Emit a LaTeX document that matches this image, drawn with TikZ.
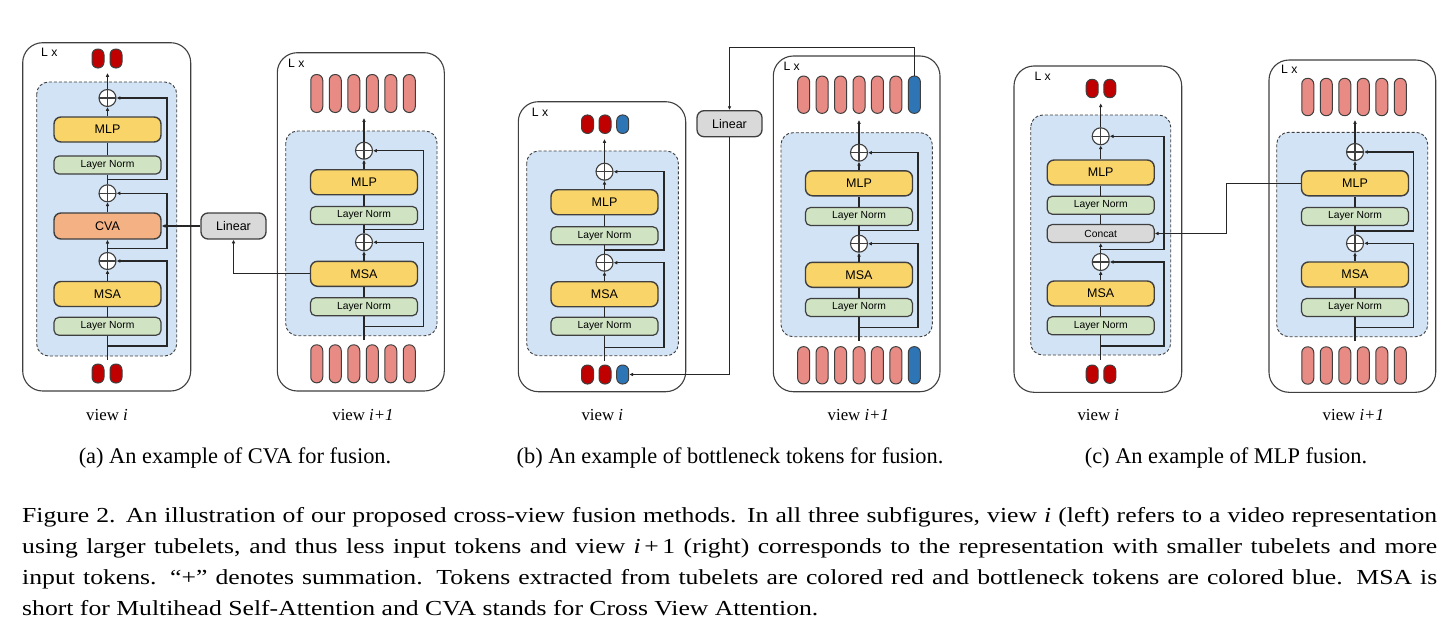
\documentclass[tikz,border=0pt]{standalone}
\usepackage{fontspec}
\setmainfont{Liberation Serif}
\setsansfont{Liberation Sans}
\newfontfamily\capfont[FakeStretch=1.2,Ligatures=TeX]{Liberation Serif}
\usetikzlibrary{arrows.meta}
\definecolor{lineg}{HTML}{3F3F3F}
\definecolor{linek}{HTML}{262626}
\definecolor{blockblue}{HTML}{D2E3F5}
\definecolor{ygold}{HTML}{F9D469}
\definecolor{lngreen}{HTML}{D0E4C4}
\definecolor{cvaor}{HTML}{F4B183}
\definecolor{lgray}{HTML}{D9D9D9}
\definecolor{tdred}{HTML}{C00000}
\definecolor{tlred}{HTML}{E88B84}
\definecolor{tblue}{HTML}{2E75B6}
\tikzset{
  outer/.style={draw=lineg, line width=1.1pt, rounded corners=20pt, fill=white},
  inner/.style={draw=lineg, dash pattern=on 3pt off 2pt, line width=0.9pt, fill=blockblue, rounded corners=12pt},
  bigbox/.style={draw=lineg, line width=1.4pt, rounded corners=7pt, minimum width=107pt, minimum height=25pt, inner sep=0pt, fill=ygold, font=\sffamily\fontsize{12.5}{14}\selectfont},
  lnbox/.style={draw=lineg, line width=1.2pt, rounded corners=5pt, minimum width=107pt, minimum height=18pt, inner sep=0pt, fill=lngreen, font=\sffamily\fontsize{10.3}{12}\selectfont},
  catbox/.style={lnbox, fill=lgray},
  linbox/.style={draw=lineg, line width=1.3pt, rounded corners=7pt, minimum width=65pt, minimum height=26pt, inner sep=0pt, fill=lgray, font=\sffamily\fontsize{12.5}{14}\selectfont},
  addc/.style={circle, draw=lineg, fill=white, line width=1.1pt, minimum size=17pt, inner sep=0pt,
    path picture={\draw[line width=1.1pt, lineg] (path picture bounding box.north) -- (path picture bounding box.south) (path picture bounding box.west) -- (path picture bounding box.east);}},
  tok/.style={draw=lineg, line width=1pt, rounded corners=5.8pt, minimum width=12pt, inner sep=0pt},
  tokdr/.style={tok, fill=tdred},
  toklr/.style={tok, fill=tlred},
  tokbl/.style={tok, fill=tblue},
  lx/.style={anchor=west, inner sep=0pt, font=\sffamily\fontsize{12.2}{13}\selectfont},
  viewlbl/.style={anchor=base, inner sep=0pt, font=\fontsize{16.8}{18}\selectfont},
  subcap/.style={anchor=base, inner sep=0pt, font=\fontsize{22.4}{24}\selectfont},
  capline/.style={anchor=base west, inner sep=0pt, font=\capfont\fontsize{21.4}{24}\selectfont},
  conn/.style={draw=linek, line width=1.1pt},
  arr/.style={conn, -{Latex[length=3.8pt,width=3.8pt]}},
}
\newcommand{\skipto}[3]{\draw[arr] (#1) -- ++(#2,0) |- (#3.east);}
\begin{document}
\begin{tikzpicture}[x=1pt,y=-1pt]
\useasboundingbox[fill=white] (0,0) rectangle (1453,637);

% ================= panel (a), view i =================
\draw[outer] (22.7,42.7) rectangle (190.7,391);
\node[lx] (a1lx) at (41,52) {L x};
\node[tokdr, minimum height=19pt] (a1t0) at (98,58.5) {};
\node[tokdr, minimum height=19pt] (a1t1) at (116,58.5) {};
\draw[inner] (36.7,82) rectangle (176.7,356);
\node[addc] (a1c1) at (107.5,98) {};
\node[bigbox] (a1mlp) at (107.5,129.5) {MLP};
\node[lnbox] (a1ln1) at (107.5,165) {Layer Norm};
\node[addc] (a1c2) at (107.5,193.3) {};
\node[bigbox, fill=cvaor, minimum height=26pt] (a1cva) at (107.5,226) {CVA};
\node[addc] (a1c3) at (107.5,261) {};
\node[bigbox] (a1msa) at (107.5,294) {MSA};
\node[lnbox] (a1ln2) at (107.5,326.3) {Layer Norm};
\node[tokdr, minimum height=19pt] (a1b0) at (98,373.5) {};
\node[tokdr, minimum height=19pt] (a1b1) at (116,373.5) {};
\coordinate (a1in) at (107.5,360);
\coordinate (a1out) at (107.5,73);
\coordinate (a1s1) at (107.5,179.3);
\coordinate (a1s2) at (107.5,248.7);
\coordinate (a1s3) at (107.5,346);
\draw[conn] (a1in) -- (a1ln2);
\draw[conn] (a1ln2) -- (a1msa);
\draw[arr] (a1msa) -- (a1c3);
\skipto{a1s3}{59.5}{a1c3}
\draw[arr] (a1c3) -- (a1cva);
\draw[arr] (a1cva) -- (a1c2);
\skipto{a1s2}{59.5}{a1c2}
\draw[conn] (a1c2) -- (a1ln1);
\skipto{a1s1}{59.5}{a1c1}
\draw[conn] (a1ln1) -- (a1mlp);
\draw[arr] (a1mlp) -- (a1c1);
\draw[arr] (a1c1) -- (a1out);
\node[viewlbl] (a1v) at (107,420) {view \textit{i}};

% ================= panel (a), view i+1 =================
\draw[outer] (277.3,52.7) rectangle (444.3,391);
\node[lx] (a2lx) at (288,63) {L x};
\foreach \k in {0,...,5} {
  \node[toklr, minimum height=38pt] (a2t\k) at ({363+(\k-2.5)*18.5},93.5) {};
  \node[toklr, minimum height=38pt] (a2b\k) at ({363+(\k-2.5)*18.5},363.8) {};
}
\draw[inner] (285.7,131) rectangle (437,335.7);
\node[addc] (a2c1) at (364,150.7) {};
\node[bigbox] (a2mlp) at (364,182.2) {MLP};
\node[lnbox] (a2ln1) at (364,215.5) {Layer Norm};
\node[addc] (a2c2) at (364,242.3) {};
\node[bigbox] (a2msa) at (364,273.8) {MSA};
\node[lnbox] (a2ln2) at (364,306.7) {Layer Norm};
\coordinate (a2in) at (364,340);
\coordinate (a2out) at (364,118);
\coordinate (a2s1) at (364,229.3);
\coordinate (a2s2) at (364,326.7);
\draw[conn] (a2in) -- (a2ln2);
\draw[conn] (a2ln2) -- (a2msa);
\draw[arr] (a2msa) -- (a2c2);
\skipto{a2s2}{59.3}{a2c2}
\draw[conn] (a2c2) -- (a2ln1);
\skipto{a2s1}{59.3}{a2c1}
\draw[conn] (a2ln1) -- (a2mlp);
\draw[arr] (a2mlp) -- (a2c1);
\draw[arr] (a2c1) -- (a2out);
\node[viewlbl] (a2v) at (363,420) {view \textit{i+1}};

\node[linbox] (alin) at (233.5,226) {Linear};
\draw[arr] (alin) -- (a1cva);
\draw[arr] (a2msa.west) -| (alin.south);

% ================= panel (b), view i =================
\draw[outer] (518.3,101.7) rectangle (685.7,391.7);
\node[lx] (b1lx) at (531.7,112.7) {L x};
\node[tokdr, minimum height=18.5pt] (b1t0) at (587.5,124.2) {};
\node[tokdr, minimum height=18.5pt] (b1t1) at (605,124.2) {};
\node[tokbl, minimum height=18.5pt] (b1t2) at (622.7,124.2) {};
\draw[inner] (526.7,151) rectangle (678.3,355.7);
\node[addc] (b1c1) at (604.5,171.7) {};
\node[bigbox] (b1mlp) at (604.5,202.2) {MLP};
\node[lnbox] (b1ln1) at (604.5,235.8) {Layer Norm};
\node[addc] (b1c2) at (604.5,262.7) {};
\node[bigbox] (b1msa) at (604.5,294.2) {MSA};
\node[lnbox] (b1ln2) at (604.5,326.3) {Layer Norm};
\node[tokdr, minimum height=19pt] (b1b0) at (587.5,374.5) {};
\node[tokdr, minimum height=19pt] (b1b1) at (605,374.5) {};
\node[tokbl, minimum height=19pt] (b1b2) at (622.7,374.5) {};
\coordinate (b1in) at (604.5,361);
\coordinate (b1out) at (604.5,139);
\coordinate (b1s1) at (604.5,250);
\coordinate (b1s2) at (604.5,347.3);
\draw[conn] (b1in) -- (b1ln2);
\draw[conn] (b1ln2) -- (b1msa);
\draw[arr] (b1msa) -- (b1c2);
\skipto{b1s2}{59.5}{b1c2}
\draw[conn] (b1c2) -- (b1ln1);
\skipto{b1s1}{59.5}{b1c1}
\draw[conn] (b1ln1) -- (b1mlp);
\draw[arr] (b1mlp) -- (b1c1);
\draw[arr] (b1c1) -- (b1out);
\node[viewlbl] (b1v) at (602.3,420) {view \textit{i}};

% ================= panel (b), view i+1 =================
\draw[outer] (773.3,56) rectangle (940,391.7);
\node[lx] (b2lx) at (783.3,66.7) {L x};
\foreach \k in {0,...,5} {
  \node[toklr, minimum height=37.3pt] (b2t\k) at ({859+(\k-3)*18.45},94.7) {};
  \node[toklr, minimum height=37.3pt] (b2b\k) at ({859+(\k-3)*18.45},365.3) {};
}
\node[tokbl, minimum height=37.3pt] (b2t6) at ({859+3*18.45},94.7) {};
\node[tokbl, minimum height=37.3pt] (b2b6) at ({859+3*18.45},365.3) {};
\draw[inner] (781,132.7) rectangle (932.3,336.7);
\node[addc] (b2c1) at (859,152.7) {};
\node[bigbox] (b2mlp) at (859,183.3) {MLP};
\node[lnbox] (b2ln1) at (859,216.5) {Layer Norm};
\node[addc] (b2c2) at (859,243.7) {};
\node[bigbox] (b2msa) at (859,274.8) {MSA};
\node[lnbox] (b2ln2) at (859,307.5) {Layer Norm};
\coordinate (b2in) at (859,341);
\coordinate (b2out) at (859,120);
\coordinate (b2s1) at (859,230.7);
\coordinate (b2s2) at (859,327.7);
\draw[conn] (b2in) -- (b2ln2);
\draw[conn] (b2ln2) -- (b2msa);
\draw[arr] (b2msa) -- (b2c2);
\skipto{b2s2}{59}{b2c2}
\draw[conn] (b2c2) -- (b2ln1);
\skipto{b2s1}{59}{b2c1}
\draw[conn] (b2ln1) -- (b2mlp);
\draw[arr] (b2mlp) -- (b2c1);
\draw[arr] (b2c1) -- (b2out);
\node[viewlbl] (b2v) at (858.3,420) {view \textit{i+1}};

\node[linbox] (blin) at (729.5,123.7) {Linear};
\draw[arr] (b2t6.north) -- ++(0,-27.7) -| (blin.north);
\draw[arr] (blin.south) |- (b1b2.east);

% ================= panel (c), view i =================
\draw[outer] (1014,66) rectangle (1181.7,392.3);
\node[lx] (c1lx) at (1034.3,76) {L x};
\node[tokdr, minimum height=18.4pt] (c1t0) at (1092.2,88.5) {};
\node[tokdr, minimum height=18.4pt] (c1t1) at (1109.8,88.5) {};
\draw[inner] (1030.7,115) rectangle (1170.7,355);
\node[addc] (c1c1) at (1100.7,136.3) {};
\node[bigbox] (c1mlp) at (1100.7,172.5) {MLP};
\node[lnbox] (c1ln1) at (1100.7,205.2) {Layer Norm};
\node[catbox] (c1cat) at (1100.7,233.5) {Concat};
\node[addc] (c1c2) at (1100.7,262) {};
\node[bigbox] (c1msa) at (1100.7,293.5) {MSA};
\node[lnbox] (c1ln2) at (1100.7,325.8) {Layer Norm};
\node[tokdr, minimum height=18.4pt] (c1b0) at (1092.2,374.2) {};
\node[tokdr, minimum height=18.4pt] (c1b1) at (1109.8,374.2) {};
\coordinate (c1in) at (1100.7,360);
\coordinate (c1out) at (1100.7,103.3);
\coordinate (c1s1) at (1100.7,249.3);
\coordinate (c1s2) at (1100.7,346);
\draw[conn] (c1in) -- (c1ln2);
\draw[conn] (c1ln2) -- (c1msa);
\draw[arr] (c1msa) -- (c1c2);
\skipto{c1s2}{63.3}{c1c2}
\draw[arr] (c1c2) -- (c1cat);
\skipto{c1s1}{63.3}{c1c1}
\draw[conn] (c1cat) -- (c1ln1);
\draw[conn] (c1ln1) -- (c1mlp);
\draw[arr] (c1mlp) -- (c1c1);
\draw[arr] (c1c1) -- (c1out);
\node[viewlbl] (c1v) at (1098.3,420) {view \textit{i}};

% ================= panel (c), view i+1 =================
\draw[outer] (1269,60) rectangle (1435.7,392.3);
\node[lx] (c2lx) at (1281,69) {L x};
\foreach \k in {0,...,5} {
  \node[toklr, minimum height=37.4pt] (c2t\k) at ({1354+(\k-2.5)*18.5},97) {};
  \node[toklr, minimum height=37.4pt] (c2b\k) at ({1354+(\k-2.5)*18.5},365.5) {};
}
\draw[inner] (1276.7,132.3) rectangle (1427.7,336.7);
\node[addc] (c2c1) at (1355,152) {};
\node[bigbox] (c2mlp) at (1355,183.3) {MLP};
\node[lnbox] (c2ln1) at (1355,216.5) {Layer Norm};
\node[addc] (c2c2) at (1355,243.3) {};
\node[bigbox] (c2msa) at (1355,274.5) {MSA};
\node[lnbox] (c2ln2) at (1355,307.5) {Layer Norm};
\coordinate (c2in) at (1355,341);
\coordinate (c2out) at (1355,120);
\coordinate (c2s1) at (1355,231);
\coordinate (c2s2) at (1355,327.7);
\draw[conn] (c2in) -- (c2ln2);
\draw[conn] (c2ln2) -- (c2msa);
\draw[arr] (c2msa) -- (c2c2);
\skipto{c2s2}{58.3}{c2c2}
\draw[conn] (c2c2) -- (c2ln1);
\skipto{c2s1}{58.3}{c2c1}
\draw[conn] (c2ln1) -- (c2mlp);
\draw[arr] (c2mlp) -- (c2c1);
\draw[arr] (c2c1) -- (c2out);
\node[viewlbl] (c2v) at (1353.3,420) {view \textit{i+1}};

\draw[arr] (c2mlp.west) -- ++(-74,0) |- (c1cat.east);

% ================= captions =================
\node[subcap] (capa) at (235,463.3) {(a) An example of CVA for fusion.};
\node[subcap] (capb) at (730,463.3) {(b) An example of bottleneck tokens for fusion.};
\node[subcap] (capc) at (1226,463.3) {(c) An example of MLP fusion.};

\node[capline] (cap1) at (22,522.3) {\makebox[1415pt][s]{Figure 2. An illustration of our proposed cross-view fusion methods. In all three subfigures, view \textit{i} (left) refers to a video representation}};
\node[capline] (cap2) at (22,553.3) {\makebox[1415pt][s]{using larger tubelets, and thus less input tokens and view \textit{i}\,+\,1 (right) corresponds to the representation with smaller tubelets and more}};
\node[capline] (cap3) at (22,584.3) {\makebox[1415pt][s]{input tokens. “+” denotes summation. Tokens extracted from tubelets are colored red and bottleneck tokens are colored blue. MSA is}};
\node[capline] (cap4) at (22,615) {short for Multihead Self-Attention and CVA stands for Cross View Attention.};
\end{tikzpicture}
\end{document}
